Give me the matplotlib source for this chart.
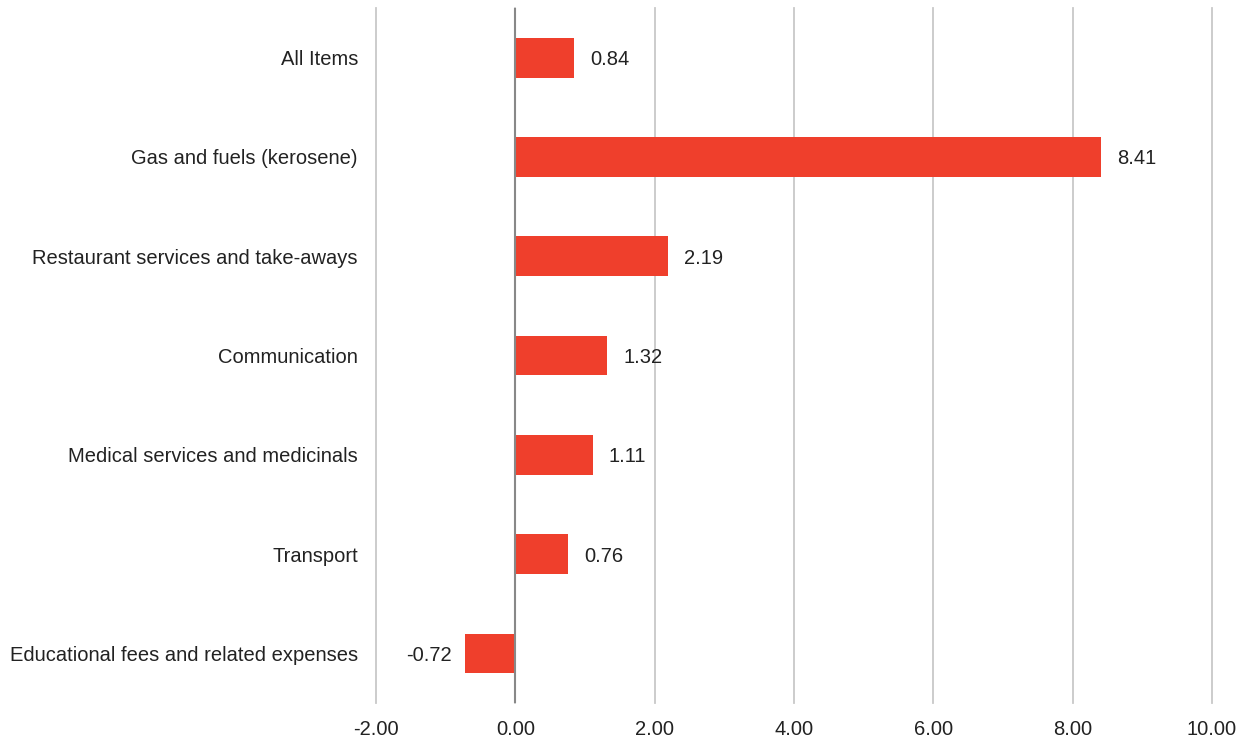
import numpy as np
import matplotlib.pyplot as plt

plt.rcParams['font.family'] = ['Liberation Sans', 'DejaVu Sans']

categories = [
    'All Items',
    'Gas and fuels (kerosene)',
    'Restaurant services and take-aways',
    'Communication',
    'Medical services and medicinals',
    'Transport',
    'Educational fees and related expenses',
]
values = [0.84, 8.41, 2.19, 1.32, 1.11, 0.76, -0.72]
x_ticks = [-2, 0, 2, 4, 6, 8, 10]

fig = plt.figure(figsize=(12.47, 7.4), dpi=100)
ax = fig.add_axes([376 / 1247, 1 - 703 / 740, 836 / 1247, 695 / 740])

y_pos = np.arange(len(categories))
ax.barh(y_pos, values, height=0.4, color='#EF3F2C', zorder=3)

# value labels next to each bar end
for y, v in zip(y_pos, values):
    if v >= 0:
        ax.annotate(f'{v:.2f}', (v, y), xytext=(11.5, 0), textcoords='offset points',
                    ha='left', va='center_baseline', fontsize=14.5, color='#222222')
    else:
        ax.annotate(f'{v:.2f}', (v, y), xytext=(-10, 0), textcoords='offset points',
                    ha='right', va='center_baseline', fontsize=14.5, color='#222222')

ax.set_xlim(-2, 10)
ax.set_ylim(len(categories) - 0.5, -0.5)
ax.set_xticks(x_ticks)
ax.set_xticklabels([f'{t:.2f}' for t in x_ticks], fontsize=14.5, color='#222222')
ax.set_yticks(y_pos)
ax.set_yticklabels(categories, fontsize=14.5, color='#222222')

ax.grid(axis='x', color='#C8C8C8', linewidth=1.3, zorder=0)
for gl in ax.get_xgridlines():
    gl.set_clip_on(False)
ax.axvline(0, color='#888888', linewidth=1.5, zorder=4)
ax.tick_params(length=0)
ax.tick_params(axis='y', pad=13)
ax.tick_params(axis='x', pad=12)
for s in ax.spines.values():
    s.set_visible(False)

fig.savefig('out.png', dpi=100)
